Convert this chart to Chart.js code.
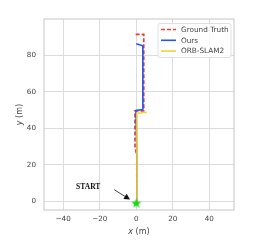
<!DOCTYPE html>
<html lang="en">
<head>
  <meta charset="UTF-8">
  <title>Trajectory</title>
  <script src="https://cdn.jsdelivr.net/npm/chart.js"></script>
  <style>
    body { margin: 0; background: #fff; }
    canvas { display: block; }
  </style>
</head>
<body>
  <canvas id="traj" width="274" height="240"></canvas>
  <script>
    // trajectories in metres
    const gtX   = [0.3, 0.3, -0.7, -0.7, 4.1, 4.1, -1.5];
    const gtY   = [0, 25, 30, 49.5, 49.5, 91.5, 91.5];
    const oursX = [0.2, 0.3, -0.2, 3.6, 3.6, 0];
    const oursY = [-1, 30, 49.8, 50.3, 85.2, 86.3];
    const orbX  = [0, 0.4, 0.4, 5.8];
    const orbY  = [-1, 20, 48.2, 48.8];
    const startPt = [0, -1];
    const seriesNames = ['Ground Truth', 'Ours', 'ORB-SLAM2'];
    const xTicks = [-40, -20, 0, 20, 40];
    const yTicks = [0, 20, 40, 60, 80];
    // annotation: label position and arrow (data units)
    const startLabel = [-26.3, 8];
    const arrowFrom = [-12, 6.3];
    const arrowTo = [-3.4, 0.9];

    const toPts = (xs, ys) => xs.map((x, i) => ({ x: x, y: ys[i] }));

    const txt = '#444';
    const gridCol = '#dcdcdc';
    const colors = ['#e8413c', '#2a55e0', '#f2d43a'];

    // filled green star for the start point
    const star = document.createElement('canvas');
    star.width = 11; star.height = 11;
    (function () {
      const c = star.getContext('2d');
      c.beginPath();
      for (let i = 0; i < 10; i++) {
        const r = i % 2 === 0 ? 5.3 : 2.2;
        const a = -Math.PI / 2 + i * Math.PI / 5;
        const px = 5.5 + r * Math.cos(a), py = 5.8 + r * Math.sin(a);
        if (i === 0) c.moveTo(px, py); else c.lineTo(px, py);
      }
      c.closePath();
      c.fillStyle = '#11dd11';
      c.fill();
    })();

    // axis title with an italic variable name, e.g. "x (m)"
    function mathTitle(ctx, v, cx, cy) {
      const it = 'italic 8px "DejaVu Sans"', rm = '8px "DejaVu Sans"';
      ctx.font = it; const w1 = ctx.measureText(v).width;
      ctx.font = rm; const w2 = ctx.measureText(' (m)').width;
      const x0 = cx - (w1 + w2) / 2;
      ctx.textAlign = 'left';
      ctx.textBaseline = 'middle';
      ctx.fillStyle = txt;
      ctx.font = it; ctx.fillText(v, x0, cy);
      ctx.font = rm; ctx.fillText(' (m)', x0 + w1, cy);
    }

    const framePlugin = {
      id: 'frame',
      beforeDatasetsDraw(chart) {
        const a = chart.chartArea, ctx = chart.ctx;
        ctx.save();
        ctx.strokeStyle = '#cfcfcf';
        ctx.lineWidth = 1.2;
        ctx.strokeRect(a.left, a.top, a.right - a.left, a.bottom - a.top);
        ctx.restore();
      },
      afterDatasetsDraw(chart) {
        const ctx = chart.ctx, xs = chart.scales.x, ys = chart.scales.y, a = chart.chartArea;
        ctx.save();
        // axis titles
        mathTitle(ctx, 'x', (a.left + a.right) / 2, 232);
        ctx.save();
        ctx.translate(20, (a.top + a.bottom) / 2);
        ctx.rotate(-Math.PI / 2);
        mathTitle(ctx, 'y', 0, 0);
        ctx.restore();

        // START label + arrow
        ctx.fillStyle = '#111';
        ctx.font = 'bold 7.5px "Liberation Serif"';
        ctx.textAlign = 'center';
        ctx.textBaseline = 'middle';
        ctx.fillText('START', xs.getPixelForValue(startLabel[0]), ys.getPixelForValue(startLabel[1]));
        const x1 = xs.getPixelForValue(arrowFrom[0]), y1 = ys.getPixelForValue(arrowFrom[1]);
        const x2 = xs.getPixelForValue(arrowTo[0]), y2 = ys.getPixelForValue(arrowTo[1]);
        const ang = Math.atan2(y2 - y1, x2 - x1);
        const hl = 6, hw = 3;
        const bx = x2 - hl * Math.cos(ang), by = y2 - hl * Math.sin(ang);
        ctx.strokeStyle = '#111';
        ctx.lineWidth = 0.8;
        ctx.beginPath(); ctx.moveTo(x1, y1); ctx.lineTo(bx, by); ctx.stroke();
        ctx.beginPath();
        ctx.moveTo(x2, y2);
        ctx.lineTo(bx + hw * Math.sin(ang), by - hw * Math.cos(ang));
        ctx.lineTo(bx - hw * Math.sin(ang), by + hw * Math.cos(ang));
        ctx.closePath(); ctx.fill();

        // legend box, top right inside the axes
        const lx = 158, ly = 23.5, lw = 73, lh = 34;
        ctx.fillStyle = 'rgba(255,255,255,0.85)';
        ctx.strokeStyle = '#d8d8d8';
        ctx.lineWidth = 0.8;
        ctx.beginPath(); ctx.roundRect(lx, ly, lw, lh, 2); ctx.fill(); ctx.stroke();
        ctx.font = '7.3px "DejaVu Sans"';
        ctx.textAlign = 'left';
        ctx.fillStyle = txt;
        seriesNames.forEach((name, i) => {
          const cy = ly + 6 + i * 10.8;
          ctx.strokeStyle = colors[i];
          ctx.lineWidth = 1.6;
          ctx.setLineDash(i === 0 ? [4, 2] : []);
          ctx.beginPath(); ctx.moveTo(161, cy); ctx.lineTo(176, cy); ctx.stroke();
          ctx.setLineDash([]);
          ctx.fillText(name, 181, cy + 0.5);
        });
        ctx.restore();
      }
    };

    const minusFmt = v => String(v).replace('-', '\u2212');

    new Chart(document.getElementById('traj'), {
      type: 'scatter',
      data: {
        datasets: [
          { label: seriesNames[0], data: toPts(gtX, gtY), showLine: true, borderColor: colors[0],
            borderWidth: 1.7, borderDash: [4, 2], pointRadius: 0, order: 3 },
          { label: seriesNames[1], data: toPts(oursX, oursY), showLine: true, borderColor: colors[1],
            borderWidth: 1.6, pointRadius: 0, order: 2 },
          { label: seriesNames[2], data: toPts(orbX, orbY), showLine: true, borderColor: colors[2],
            borderWidth: 1.6, pointRadius: 0, order: 1 },
          { label: 'start', data: [{ x: startPt[0], y: startPt[1] }], pointStyle: star,
            pointRadius: 5, order: 0 }
        ]
      },
      options: {
        responsive: false,
        animation: false,
        events: [],
        layout: { padding: { left: 0, top: 19, right: 40, bottom: 0 } },
        plugins: { legend: { display: false }, tooltip: { enabled: false } },
        scales: {
          x: {
            type: 'linear', min: -50.5, max: 53.5,
            afterFit: s => { s.height = 30; },
            afterBuildTicks: s => { s.ticks = xTicks.map(v => ({ value: v })); },
            grid: { color: gridCol, lineWidth: 1, drawTicks: false },
            border: { display: false },
            ticks: { color: txt, font: { family: 'DejaVu Sans', size: 7.2 }, padding: 5, callback: minusFmt },
            title: { display: false }
          },
          y: {
            type: 'linear', min: -4.8, max: 99.9,
            afterFit: s => { s.width = 44; },
            afterBuildTicks: s => { s.ticks = yTicks.map(v => ({ value: v })); },
            grid: { color: gridCol, lineWidth: 1, drawTicks: false },
            border: { display: false },
            ticks: { color: txt, font: { family: 'DejaVu Sans', size: 7.2 }, padding: 8, callback: minusFmt },
            title: { display: false }
          }
        }
      },
      plugins: [framePlugin]
    });
  </script>
</body>
</html>
